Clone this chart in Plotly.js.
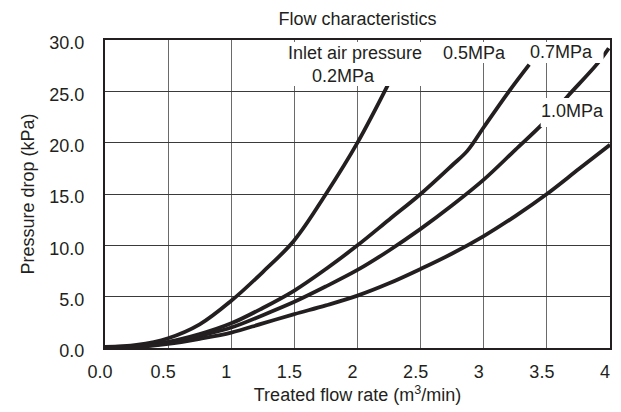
<!DOCTYPE html>
<html>
<head>
<meta charset="utf-8">
<script src="https://cdn.plot.ly/plotly-3.0.1.min.js"></script>
<style>html,body{margin:0;padding:0;background:#fff;}#chart{width:621px;height:412px;}</style>
</head>
<body>
<div id="chart"></div>
<script>
// Treated flow rate (m3/min) vs pressure drop (kPa)
const flow02 = [0, 0.25, 0.5, 0.75, 1.0, 1.25, 1.5, 1.75, 2.0, 2.24];
const drop02 = [0.1, 0.3, 0.95, 2.3, 4.6, 7.4, 10.5, 15.0, 20.0, 25.6];

const flow05 = [0, 0.25, 0.5, 0.75, 1.0, 1.25, 1.5, 1.75, 2.0, 2.25, 2.5, 2.75, 2.87, 3.0, 3.2, 3.36];
const drop05 = [0.1, 0.2, 0.6, 1.35, 2.4, 3.9, 5.6, 7.7, 10.0, 12.5, 15.0, 17.8, 19.2, 21.5, 25.0, 27.6];

const flow07 = [0, 0.25, 0.5, 0.75, 1.0, 1.25, 1.5, 1.75, 2.0, 2.25, 2.5, 2.75, 3.0, 3.25, 3.48, 3.67, 3.9, 3.99];
const drop07 = [0.1, 0.15, 0.5, 1.2, 2.0, 3.2, 4.5, 6.0, 7.6, 9.5, 11.6, 13.9, 16.4, 19.3, 22.0, 24.6, 27.7, 29.2];

const flow10 = [0, 0.25, 0.5, 0.75, 1.0, 1.25, 1.5, 1.75, 2.0, 2.25, 2.5, 2.75, 3.0, 3.25, 3.5, 3.75, 4.0];
const drop10 = [0.1, 0.1, 0.4, 0.9, 1.5, 2.4, 3.3, 4.15, 5.1, 6.3, 7.7, 9.2, 10.9, 12.85, 15.0, 17.4, 19.8];

const xTickVals = [0, 0.5, 1, 1.5, 2, 2.5, 3, 3.5, 4];
const xTickText = ['0.0', '0.5', '1', '1.5', '2', '2.5', '3', '3.5', '4'];
const yTickVals = [0, 5, 10, 15, 20, 25, 30];
const yTickText = ['0.0', '5.0', '10.0', '15.0', '20.0', '25.0', '30.0'];

const seriesNames = ['0.2MPa', '0.5MPa', '0.7MPa', '1.0MPa'];

const FONT = 'Liberation Sans, Arial, sans-serif';
const INK = '#231f20';

const lineStyle = {color: INK, width: 3.8, shape: 'spline', smoothing: 1.0};
const traces = [
  {x: flow02, y: drop02, name: seriesNames[0]},
  {x: flow05, y: drop05, name: seriesNames[1]},
  {x: flow07, y: drop07, name: seriesNames[2]},
  {x: flow10, y: drop10, name: seriesNames[3]}
].map(t => Object.assign(t, {type: 'scatter', mode: 'lines', line: lineStyle, hoverinfo: 'skip'}));

const whiteBox = (x0, x1, y0, y1) => ({type: 'rect', xref: 'x', yref: 'y', x0, x1, y0, y1,
  fillcolor: '#ffffff', line: {width: 0}, layer: 'above'});

const label = (text, x, y) => ({text, x, y, xref: 'x', yref: 'y', showarrow: false,
  font: {family: FONT, size: 18, color: INK}, xanchor: 'center', yanchor: 'middle'});

const layout = {
  width: 621, height: 412,
  margin: {l: 105, r: 11, t: 40, b: 64, pad: 0},
  paper_bgcolor: '#ffffff', plot_bgcolor: '#ffffff',
  showlegend: false,
  font: {family: FONT, size: 18, color: INK},
  title: {text: 'Flow characteristics', font: {family: FONT, size: 18, color: INK},
          x: 0.5, xref: 'paper', y: 0.955, yref: 'container', yanchor: 'middle'},
  xaxis: {
    range: [0, 4], tickvals: xTickVals, ticktext: xTickText, ticks: '',
    showgrid: true, gridcolor: '#6a6a6a', gridwidth: 1, zeroline: false,
    showline: true, mirror: true, linecolor: INK, linewidth: 2,
    tickfont: {family: FONT, size: 18, color: INK}, ticklabelstandoff: 6, ticklabelshift: -5,
    automargin: false,
    title: {text: 'Treated flow rate (m<sup>3</sup>/min)', font: {family: FONT, size: 18, color: INK}, standoff: 8}
  },
  yaxis: {
    range: [0, 30], tickvals: yTickVals, ticktext: yTickText, ticks: '',
    showgrid: true, gridcolor: '#3a3a3a', gridwidth: 1, zeroline: false,
    showline: true, mirror: true, linecolor: INK, linewidth: 2,
    tickfont: {family: FONT, size: 18, color: INK}, ticklabelstandoff: 15, ticklabelshift: 3,
    automargin: false,
    title: {text: 'Pressure drop (kPa)', font: {family: FONT, size: 18, color: INK}, standoff: 10}
  },
  shapes: [
    whiteBox(1.40, 2.572, 25.52, 29.8),
    whiteBox(2.627, 3.949, 27.76, 29.8),
    whiteBox(3.451, 3.949, 21.53, 24.35)
  ],
  annotations: [
    label('Inlet air pressure', 1.978, 28.72),
    label(seriesNames[0], 1.892, 26.5),
    label(seriesNames[1], 2.928, 28.74),
    label(seriesNames[2], 3.615, 28.8),
    label(seriesNames[3], 3.70, 23.12)
  ]
};

Plotly.newPlot('chart', traces, layout, {staticPlot: true, displayModeBar: false});
</script>
</body>
</html>
